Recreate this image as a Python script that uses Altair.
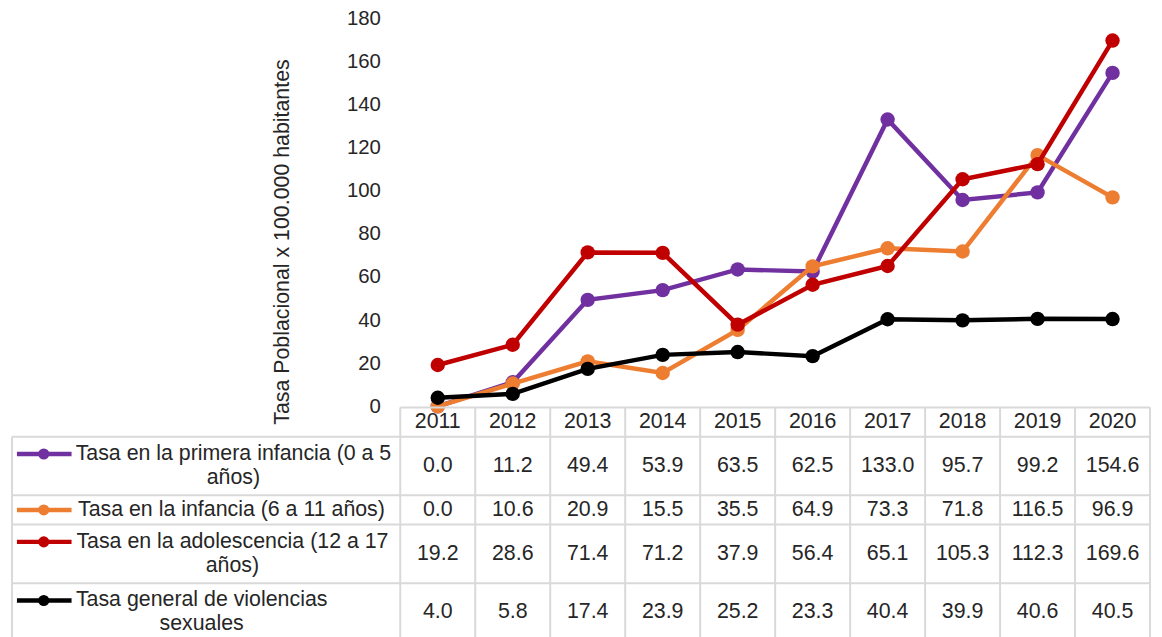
import altair as alt
import pandas as pd

# ---------------- data ----------------
years = ["2011", "2012", "2013", "2014", "2015", "2016", "2017", "2018", "2019", "2020"]
series = [
    "Tasa en la primera infancia (0 a 5 años)",
    "Tasa en la infancia (6 a 11 años)",
    "Tasa en la adolescencia (12 a 17 años)",
    "Tasa general de violencias sexuales",
]
series_labels = [
    "Tasa en la primera infancia (0 a 5\naños)",
    "Tasa en la infancia (6 a 11 años)",
    "Tasa en la adolescencia (12 a 17\naños)",
    "Tasa general de violencias\nsexuales",
]
primera_infancia = [0.0, 11.2, 49.4, 53.9, 63.5, 62.5, 133.0, 95.7, 99.2, 154.6]
infancia = [0.0, 10.6, 20.9, 15.5, 35.5, 64.9, 73.3, 71.8, 116.5, 96.9]
adolescencia = [19.2, 28.6, 71.4, 71.2, 37.9, 56.4, 65.1, 105.3, 112.3, 169.6]
general = [4.0, 5.8, 17.4, 23.9, 25.2, 23.3, 40.4, 39.9, 40.6, 40.5]
colors = ["#7030A0", "#ED7D31", "#C00000", "#000000"]
y_ticks = [0, 20, 40, 60, 80, 100, 120, 140, 160, 180]
y_title = "Tasa Poblacional x 100.000 habitantes"

values_by_series = [primera_infancia, infancia, adolescencia, general]

FONT = "Liberation Sans"
TXT = "#262626"
GRID = "#D9D9D9"
FS = 20.5
TFS = 21.5

# ---------------- tables built from the arrays ----------------
rows = []
for s, vals in zip(series, values_by_series):
    for y, v in zip(years, vals):
        rows.append({"series": s, "year": y, "value": v})
df = pd.DataFrame(rows)

# table row layout in "line units": header = 1 line, each series = number of label lines
row_info = []
top = 1
for s, lab in zip(series, series_labels):
    n = lab.count("\n") + 1
    row_info.append({"series": s, "label": lab, "top": top, "n": n,
                     "yc": top + n / 2.0, "ky": top + n / 2.0 - (n - 1) * 0.41})
    top += n
rows_df = pd.DataFrame(row_info)
table_bottom = top

cells = df.merge(rows_df[["series", "yc"]], on="series")
cells["txt"] = cells["value"].map(lambda v: f"{v:.1f}")

header_df = pd.DataFrame({"year": years, "yc": [0.5] * len(years)})
vrules_df = pd.DataFrame({"year": years, "y0": [0] * len(years), "y1": [table_bottom] * len(years)})
hrules_df = pd.DataFrame({"b": [r["top"] for r in row_info]})

# ---------------- scales ----------------
xs = alt.Scale(type="band", domain=years, paddingInner=0, paddingOuter=0)
ys = alt.Scale(domain=[0, 180], range=[391, 0], nice=False, zero=True)
ty = alt.Scale(domain=[0, 8], range=[392, 628], nice=False, zero=False)
cs = alt.Scale(domain=series, range=colors)

yaxis = alt.Axis(
    values=y_ticks, title=y_title, grid=False, ticks=False, domain=False,
    labelFont=FONT, labelFontSize=FS, labelColor=TXT, labelPadding=20,
    titleFont=FONT, titleFontSize=21.5, titleColor=TXT, titleFontWeight="normal",
    titleAngle=-90, titleX=-119, titleY=225, titleBaseline="middle", titleAlign="center",
)

# ---------------- line chart ----------------
line_layers = []
for i, s in enumerate(series):
    b = alt.Chart(df).transform_filter(alt.datum.series == s).encode(
        x=alt.X("year:O", scale=xs, bandPosition=0.5, axis=None),
        y=alt.Y("value:Q", scale=ys, axis=yaxis),
        color=alt.Color("series:N", scale=cs, legend=None),
    )
    line_layers.append(b.mark_line(strokeWidth=4.5))
    line_layers.append(b.mark_point(filled=True, size=210, opacity=1))
lines = alt.layer(*line_layers)

# ---------------- data table ----------------
cell_text = alt.Chart(cells).mark_text(font=FONT, fontSize=TFS, color=TXT, baseline="middle").encode(
    x=alt.X("year:O", scale=xs, bandPosition=0.5, axis=None),
    y=alt.Y("yc:Q", scale=ty, axis=None),
    text="txt:N",
)
header_text = alt.Chart(header_df).mark_text(font=FONT, fontSize=TFS, color=TXT, baseline="middle").encode(
    x=alt.X("year:O", scale=xs, bandPosition=0.5, axis=None),
    y=alt.Y("yc:Q", scale=ty, axis=None),
    text="year:N",
)
vrules = alt.Chart(vrules_df).mark_rule(color=GRID, strokeWidth=2).encode(
    x=alt.X("year:O", scale=xs, bandPosition=0, axis=None),
    y=alt.Y("y0:Q", scale=ty, axis=None),
    y2="y1:Q",
)
vrule_right = alt.Chart(vrules_df.tail(1)).mark_rule(color=GRID, strokeWidth=2).encode(
    x=alt.X("year:O", scale=xs, bandPosition=1, axis=None),
    y=alt.Y("y0:Q", scale=ty, axis=None),
    y2="y1:Q",
)
vrule_left = alt.Chart(rows_df.head(1)).mark_rule(color=GRID, strokeWidth=2).encode(
    x=alt.value(-391),
    y=alt.Y("top:Q", scale=ty, axis=None),
    y2=alt.datum(table_bottom),
)
hrules = alt.Chart(hrules_df).mark_rule(color=GRID, strokeWidth=2).encode(
    x=alt.value(-391), x2=alt.value(755),
    y=alt.Y("b:Q", scale=ty, axis=None),
)
hrule_top = alt.Chart(header_df.head(1)).mark_rule(color=GRID, strokeWidth=2).encode(
    x=alt.value(0), x2=alt.value(755),
    y=alt.Y("y0:Q", scale=ty, axis=None),
).transform_calculate(y0="0")

key_line = alt.Chart(rows_df).mark_rule(strokeWidth=4.5).encode(
    x=alt.value(-386), x2=alt.value(-331),
    y=alt.Y("ky:Q", scale=ty, axis=None),
    color=alt.Color("series:N", scale=cs, legend=None),
)
key_dot = alt.Chart(rows_df).mark_point(filled=True, size=125, opacity=1).encode(
    x=alt.value(-359),
    y=alt.Y("ky:Q", scale=ty, axis=None),
    color=alt.Color("series:N", scale=cs, legend=None),
)

label_centers = [-168, -170, -169, -200]
label_layers = []
for s, cx in zip(series, label_centers):
    label_layers.append(
        alt.Chart(rows_df).transform_filter(alt.datum.series == s).mark_text(
            font=FONT, fontSize=TFS, color=TXT, baseline="middle", align="center",
            lineBreak="\n", lineHeight=24,
        ).encode(
            x=alt.value(cx),
            y=alt.Y("ky:Q", scale=ty, axis=None),
            text="label:N",
        )
    )

table = alt.layer(vrules, vrule_right, vrule_left, hrules, hrule_top,
                  cell_text, header_text, key_line, key_dot, *label_layers)

chart = alt.layer(lines, table).resolve_scale(y="independent").properties(
    width=755, height=621,
    autosize=alt.AutoSizeParams(type="none"),
    padding={"left": 395, "top": 8, "right": 4, "bottom": 0},
    background="white",
).configure_view(stroke=None)

chart.save("out.html", embed_options={"renderer": "svg", "actions": False})
